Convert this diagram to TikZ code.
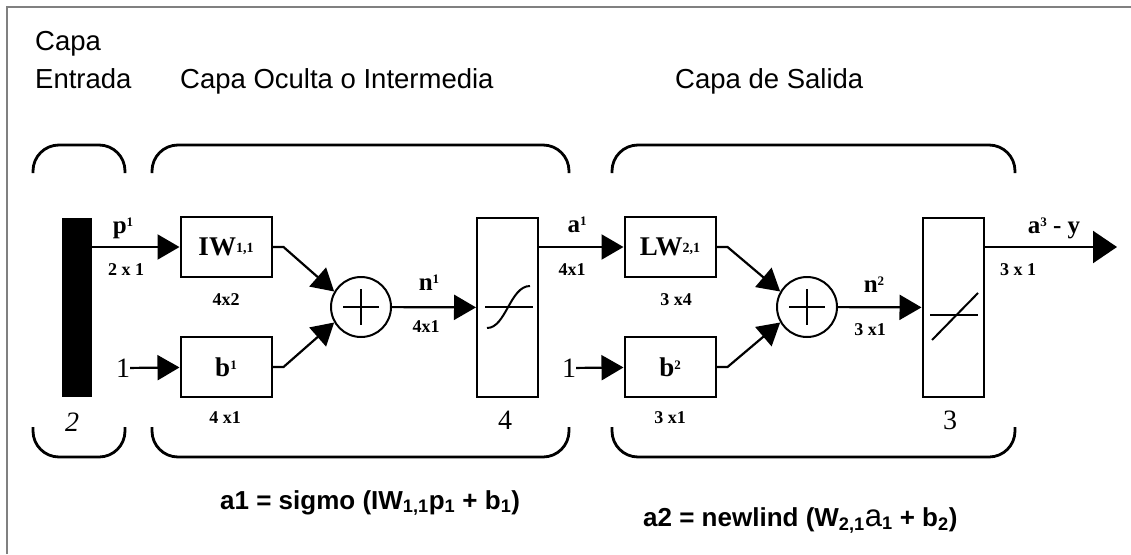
\documentclass[tikz,border=0pt]{standalone}
\usepackage{fontspec}
\setmainfont{Liberation Serif}
\setsansfont{Liberation Sans}
\usetikzlibrary{arrows.meta,calc}

\begin{document}
\begin{tikzpicture}[x=1pt,y=-1pt,
  box/.style={draw,line width=2pt,minimum width=91pt,minimum height=60pt,inner sep=0pt,
              font=\bfseries\fontsize{27}{30}\selectfont},
  fn/.style={draw,line width=2pt,minimum width=61pt,minimum height=179pt,inner sep=0pt},
  sum/.style={draw,circle,line width=2pt,minimum size=60pt,inner sep=0pt},
  nm/.style={font=\bfseries\fontsize{25}{28}\selectfont,inner sep=0pt},
  dim/.style={font=\bfseries\fontsize{18}{22}\selectfont,inner sep=0pt},
  num/.style={font=\fontsize{28}{30}\selectfont,inner sep=0pt},
  hdr/.style={font=\sffamily\fontsize{27.5}{30}\selectfont,anchor=base west,inner sep=0pt},
  eqn/.style={font=\sffamily\bfseries\fontsize{26}{30}\selectfont,anchor=base west,inner sep=0pt},
  brk/.style={line width=2.8pt,rounded corners=26pt},
  ln/.style={line width=2pt},
  arr/.style={-{Triangle[length=22pt,width=25pt]},line width=2.2pt}]
\useasboundingbox (0,0) rectangle (1131,554);
\draw[gray,line width=2pt] (7,554) -- (7,7) -- (1131,7);

\node[hdr] (capa) at (35,50) {Capa};
\node[hdr] (entr) at (35,88) {Entrada};
\node[hdr] (ocul) at (180,88) {Capa Oculta o Intermedia};
\node[hdr] (sali) at (675,88) {Capa de Salida};

\foreach \l/\r in {33/125,152/569,612/1015}{
  \draw[brk] (\l,173) -- (\l,145) -- (\r,145) -- (\r,173);
  \draw[brk] (\l,427) -- (\l,457) -- (\r,457) -- (\r,427);
}

\node[fill=black,minimum width=30pt,minimum height=179pt,inner sep=0pt] (inp) at (77,307.5) {};
\node[box] (iw) at (226,247) {IW\raisebox{3pt}{\fontsize{14}{14}\selectfont 1,1}};
\node[box] (b1) at (226,367) {b\raisebox{7pt}{\fontsize{13}{13}\selectfont 1}};
\node[sum] (s1) at (361,307) {};
\node[fn] (f1) at (507.5,307.5) {};
\node[box] (lw) at (670,247) {LW\raisebox{3pt}{\fontsize{14}{14}\selectfont 2,1}};
\node[box] (b2) at (670,367) {b\raisebox{7pt}{\fontsize{13}{13}\selectfont 2}};
\node[sum] (s2) at (807,307) {};
\node[fn] (f2) at (953,307.5) {};
\node[num] (one1) at (123,368) {1};
\node[num] (one2) at (569,368) {1};
\coordinate (out) at (1117,247);

\foreach \s in {s1,s2}
  \draw[ln] ($(\s.center)+(-18,0)$) -- ($(\s.center)+(18,0)$)
    ($(\s.center)+(0,-18)$) -- ($(\s.center)+(0,18)$);
\draw[ln] (485,307) -- (533,307);
\draw[ln] (487,328) .. controls (506,328) and (510,286) .. (530,286);
\draw[ln] (930,315) -- (978,315);
\draw[ln] (932,340) -- (978,293);

\draw[arr] (inp.east |- iw) -- (iw);
\draw[arr] (one1) -- (b1);
\draw[arr] (iw.east) -- ++(11,0) -- (s1.150);
\draw[arr] (b1.east) -- ++(11,0) -- (s1.210);
\draw[arr] (s1) -- (f1);
\draw[arr] (f1.east |- lw) -- (lw);
\draw[arr] (one2) -- (b2);
\draw[arr] (lw.east) -- ++(11,0) -- (s2.150);
\draw[arr] (b2.east) -- ++(11,0) -- (s2.210);
\draw[arr] (s2) -- (f2);
\draw[-{Triangle[length=24pt,width=32pt]},line width=2.2pt] (f2.east |- lw) -- (out);

\node[nm] (p1) at (123,228) {p\raisebox{7pt}{\fontsize{13}{13}\selectfont 1}};
\node[nm] (n1) at (429,283) {n\raisebox{7pt}{\fontsize{13}{13}\selectfont 1}};
\node[nm] (a1) at (577,225) {a\raisebox{7pt}{\fontsize{13}{13}\selectfont 1}};
\node[nm] (n2) at (874,285) {n\raisebox{7pt}{\fontsize{13}{13}\selectfont 2}};
\node[nm] (a3) at (1054,228) {a\raisebox{7pt}{\fontsize{13}{13}\selectfont 3} - y};

\node[dim] at (126,270) {2 x 1};
\node[dim] at (226,300) {4x2};
\node[dim] at (225,418) {4 x1};
\node[dim] at (426,327) {4x1};
\node[dim] at (572,270) {4x1};
\node[dim] at (676,300) {3 x4};
\node[dim] at (670,418) {3 x1};
\node[dim] at (870,330) {3 x1};
\node[dim] at (1018,270) {3 x 1};

\node[num,font=\itshape\fontsize{28}{30}\selectfont] (nin) at (72,422) {2};
\node[num] (nhid) at (505,420) {4};
\node[num] (nout) at (950,420) {3};

\node[eqn] (eq1) at (220,509)
  {a1 = sigmo (IW\textsubscript{1,1}p\textsubscript{1} + b\textsubscript{1})};
\node[eqn] (eq2) at (643,526)
  {a2 = newlind (W\textsubscript{2,1}{\mdseries\fontsize{31}{31}\selectfont a}\textsubscript{1} + b\textsubscript{2})};
\end{tikzpicture}
\end{document}
